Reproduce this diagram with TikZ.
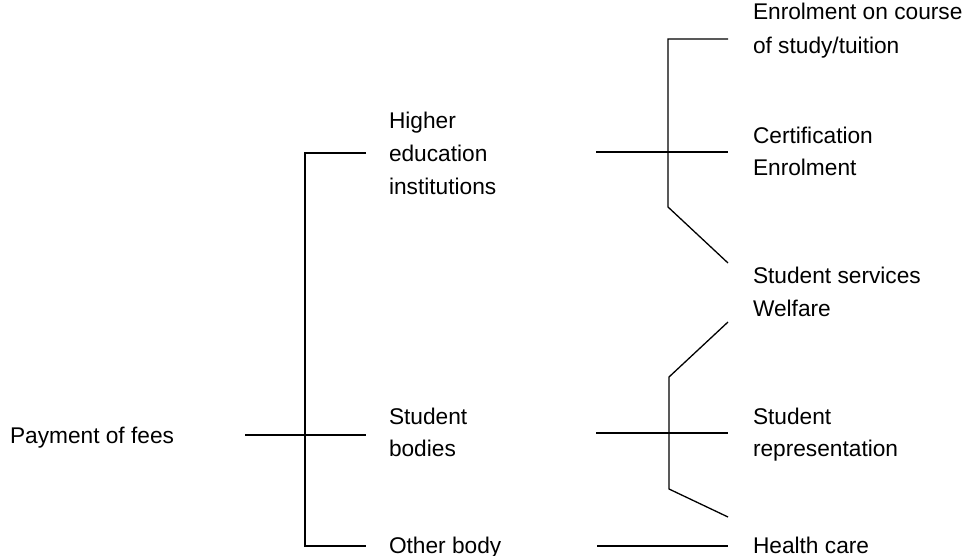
\documentclass[tikz,border=0pt]{standalone}
\usepackage{fontspec}
\setmainfont{Liberation Sans}
\begin{document}
\begin{tikzpicture}[x=1pt,y=-1pt,
  lbl/.style={anchor=base west,inner sep=0pt,outer sep=0pt,font=\fontsize{22.7}{28}\selectfont},
  conn/.style={line width=1.3pt,line join=miter}]
\useasboundingbox (0,0) rectangle (971,556);
% texts
\node[lbl] (pay) at (10,443) {Payment of fees};
\node[lbl] (hei1) at (389,129) {Higher};
\node[lbl] (hei2) at (389,161.5) {education};
\node[lbl] (hei3) at (389,194) {institutions};
\node[lbl] (sb1) at (389,424) {Student};
\node[lbl] (sb2) at (389,456.5) {bodies};
\node[lbl] (ob) at (389,553) {Other body};
\node[lbl] (en1) at (753,20) {Enrolment on course};
\node[lbl] (en2) at (753,54) {of study/tuition};
\node[lbl] (ce1) at (753,144) {Certification};
\node[lbl] (ce2) at (753,176) {Enrolment};
\node[lbl] (ss1) at (753,283) {Student services};
\node[lbl] (ss2) at (753,316) {Welfare};
\node[lbl] (sr1) at (753,424) {Student};
\node[lbl] (sr2) at (753,456) {representation};
\node[lbl] (hc) at (753,553) {Health care};
% connector points
\coordinate (a0) at (245,435);
\coordinate (a1) at (366,435);
\coordinate (at) at (305,153);
\coordinate (ab) at (305,546);
\coordinate (atE) at (366,153);
\coordinate (abE) at (366,546);
\coordinate (b0) at (596,152);
\coordinate (b1) at (728,152);
\coordinate (bt) at (668,39);
\coordinate (btE) at (728,39);
\coordinate (bb) at (668,207);
\coordinate (bbE) at (728,263);
\coordinate (c0) at (596,433);
\coordinate (c1) at (728,433);
\coordinate (ct) at (669,377);
\coordinate (ctE) at (728,322);
\coordinate (cb) at (669,489);
\coordinate (cbE) at (728,517);
\coordinate (d0) at (597,546);
\coordinate (d1) at (728,546);
% connectors
\draw[conn] (a0) -- (a1);
\draw[conn] (atE) -- (at) -- (ab) -- (abE);
\draw[conn] (b0) -- (b1);
\draw[conn] (btE) -- (bt) -- (bb) -- (bbE);
\draw[conn] (c0) -- (c1);
\draw[conn] (ctE) -- (ct) -- (cb) -- (cbE);
\draw[conn] (d0) -- (d1);
\end{tikzpicture}
\end{document}
